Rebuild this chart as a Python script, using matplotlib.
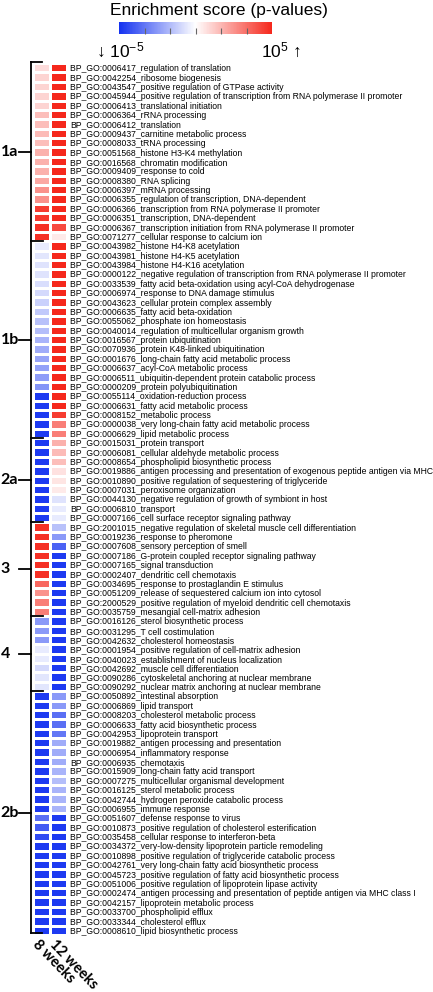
import numpy as np
import matplotlib
matplotlib.use("Agg")
import matplotlib.pyplot as plt
from matplotlib.colors import LinearSegmentedColormap, Normalize
from matplotlib.cm import ScalarMappable

plt.rcParams['font.family'] = ['Liberation Sans', 'DejaVu Sans']
plt.rcParams['mathtext.default'] = 'regular'

# GO terms, top to bottom
go_terms = [
    "BP_GO:0006417_regulation of translation",
    "BP_GO:0042254_ribosome biogenesis",
    "BP_GO:0043547_positive regulation of GTPase activity",
    "BP_GO:0045944_positive regulation of transcription from RNA polymerase II promoter",
    "BP_GO:0006413_translational initiation",
    "BP_GO:0006364_rRNA processing",
    "BP_GO:0006412_translation",
    "BP_GO:0009437_carnitine metabolic process",
    "BP_GO:0008033_tRNA processing",
    "BP_GO:0051568_histone H3-K4 methylation",
    "BP_GO:0016568_chromatin modification",
    "BP_GO:0009409_response to cold",
    "BP_GO:0008380_RNA splicing",
    "BP_GO:0006397_mRNA processing",
    "BP_GO:0006355_regulation of transcription, DNA-dependent",
    "BP_GO:0006366_transcription from RNA polymerase II promoter",
    "BP_GO:0006351_transcription, DNA-dependent",
    "BP_GO:0006367_transcription initiation from RNA polymerase II promoter",
    "BP_GO:0071277_cellular response to calcium ion",
    "BP_GO:0043982_histone H4-K8 acetylation",
    "BP_GO:0043981_histone H4-K5 acetylation",
    "BP_GO:0043984_histone H4-K16 acetylation",
    "BP_GO:0000122_negative regulation of transcription from RNA polymerase II promoter",
    "BP_GO:0033539_fatty acid beta-oxidation using acyl-CoA dehydrogenase",
    "BP_GO:0006974_response to DNA damage stimulus",
    "BP_GO:0043623_cellular protein complex assembly",
    "BP_GO:0006635_fatty acid beta-oxidation",
    "BP_GO:0055062_phosphate ion homeostasis",
    "BP_GO:0040014_regulation of multicellular organism growth",
    "BP_GO:0016567_protein ubiquitination",
    "BP_GO:0070936_protein K48-linked ubiquitination",
    "BP_GO:0001676_long-chain fatty acid metabolic process",
    "BP_GO:0006637_acyl-CoA metabolic process",
    "BP_GO:0006511_ubiquitin-dependent protein catabolic process",
    "BP_GO:0000209_protein polyubiquitination",
    "BP_GO:0055114_oxidation-reduction process",
    "BP_GO:0006631_fatty acid metabolic process",
    "BP_GO:0008152_metabolic process",
    "BP_GO:0000038_very long-chain fatty acid metabolic process",
    "BP_GO:0006629_lipid metabolic process",
    "BP_GO:0015031_protein transport",
    "BP_GO:0006081_cellular aldehyde metabolic process",
    "BP_GO:0008654_phospholipid biosynthetic process",
    "BP_GO:0019886_antigen processing and presentation of exogenous peptide antigen via MHC",
    "BP_GO:0010890_positive regulation of sequestering of triglyceride",
    "BP_GO:0007031_peroxisome organization",
    "BP_GO:0044130_negative regulation of growth of symbiont in host",
    "BP_GO:0006810_transport",
    "BP_GO:0007166_cell surface receptor signaling pathway",
    "BP_GO:2001015_negative regulation of skeletal muscle cell differentiation",
    "BP_GO:0019236_response to pheromone",
    "BP_GO:0007608_sensory perception of smell",
    "BP_GO:0007186_G-protein coupled receptor signaling pathway",
    "BP_GO:0007165_signal transduction",
    "BP_GO:0002407_dendritic cell chemotaxis",
    "BP_GO:0034695_response to prostaglandin E stimulus",
    "BP_GO:0051209_release of sequestered calcium ion into cytosol",
    "BP_GO:2000529_positive regulation of myeloid dendritic cell chemotaxis",
    "BP_GO:0035759_mesangial cell-matrix adhesion",
    "BP_GO:0016126_sterol biosynthetic process",
    "BP_GO:0031295_T cell costimulation",
    "BP_GO:0042632_cholesterol homeostasis",
    "BP_GO:0001954_positive regulation of cell-matrix adhesion",
    "BP_GO:0040023_establishment of nucleus localization",
    "BP_GO:0042692_muscle cell differentiation",
    "BP_GO:0090286_cytoskeletal anchoring at nuclear membrane",
    "BP_GO:0090292_nuclear matrix anchoring at nuclear membrane",
    "BP_GO:0050892_intestinal absorption",
    "BP_GO:0006869_lipid transport",
    "BP_GO:0008203_cholesterol metabolic process",
    "BP_GO:0006633_fatty acid biosynthetic process",
    "BP_GO:0042953_lipoprotein transport",
    "BP_GO:0019882_antigen processing and presentation",
    "BP_GO:0006954_inflammatory response",
    "BP_GO:0006935_chemotaxis",
    "BP_GO:0015909_long-chain fatty acid transport",
    "BP_GO:0007275_multicellular organismal development",
    "BP_GO:0016125_sterol metabolic process",
    "BP_GO:0042744_hydrogen peroxide catabolic process",
    "BP_GO:0006955_immune response",
    "BP_GO:0051607_defense response to virus",
    "BP_GO:0010873_positive regulation of cholesterol esterification",
    "BP_GO:0035458_cellular response to interferon-beta",
    "BP_GO:0034372_very-low-density lipoprotein particle remodeling",
    "BP_GO:0010898_positive regulation of triglyceride catabolic process",
    "BP_GO:0042761_very long-chain fatty acid biosynthetic process",
    "BP_GO:0045723_positive regulation of fatty acid biosynthetic process",
    "BP_GO:0051006_positive regulation of lipoprotein lipase activity",
    "BP_GO:0002474_antigen processing and presentation of peptide antigen via MHC class I",
    "BP_GO:0042157_lipoprotein metabolic process",
    "BP_GO:0033700_phospholipid efflux",
    "BP_GO:0033344_cholesterol efflux",
    "BP_GO:0008610_lipid biosynthetic process",
]

# enrichment score as signed log10 p-value (-5 .. 5)
score_8wk = [
    0.8, 1.0, 1.0, 1.0, 1.0, 1.5, 1.5, 1.6, 1.5, 1.8, 1.8, 1.8, 2.0, 2.5, 2.5, 4.5, 4.6, 4.8, 4.8,
    -0.5, -0.6, -0.7, -0.7, -0.8, -0.9, -1.1, -1.3, -1.5, -1.6, -1.8, -2.0, -2.2, -2.3, -2.4, -2.6,
    -4.8, -4.8, -4.8, -4.8, -4.8,
    -4.8, -4.8, -4.8, -4.8, -4.8, -4.8, -4.8, -4.8, -4.8,
    4.8, 4.8, 4.8, 4.8, 4.8, 4.8, 3.5, 2.5, 3.0, 3.0,
    -2.5, -2.5, -2.5, -0.5, -0.5, -0.9, -0.6, -0.6,
    -4.8, -4.8, -4.8, -4.8, -4.8, -4.8, -4.8, -4.8, -4.8, -4.8, -4.8, -4.8, -4.8,
    -3.5, -4.0, -4.4, -4.8, -4.8, -4.8, -4.8, -4.8, -4.8, -4.8, -4.8, -4.8, -4.8,
]
score_12wk = [
    5, 5, 5, 5, 5, 5, 5, 5, 5, 5, 5, 5, 5, 5, 5, 5, 5, 4.2, 0.5,
    5, 5, 5, 5, 5, 5, 5, 5, 5, 5, 5, 5, 5, 5, 5, 5, 5, 5, 4.5, 3.0, 3.0,
    1.8, 1.6, 1.5, 0.7, 0.6, 0.5, -0.7, -0.5, -0.5,
    -1.5, -2.5, -3.8, -4.8, -4.8, -4.8, -4.8, -4.8, -4.8, -4.8,
    -4.8, -4.8, -4.8, -4.8, -4.8, -4.8, -4.8, -4.8,
    -2.5, -2.5, -3.5, -3.5, -3.3, -2.0, -2.0, -2.0, -1.8, -1.6, -1.8, -1.8, -1.8,
    -4.8, -4.8, -4.8, -4.8, -4.8, -4.8, -4.8, -4.8, -4.8, -4.8, -4.8, -4.8, -4.8,
]

cluster_names = ["1a", "1b", "2a", "3", "4", "2b"]
cluster_sizes = [19, 21, 9, 10, 8, 26]
column_labels = ["8 weeks", "12 weeks"]

cmap = LinearSegmentedColormap.from_list("enrich", ["#1432f0", "#ffffff", "#f5281c"])
norm = Normalize(vmin=-5, vmax=5)

fig = plt.figure(figsize=(4.33, 9.92), dpi=100)

# heatmap
ax = fig.add_axes([33 / 433, 1 - 935 / 992, 34 / 433, 872 / 992])
data = np.column_stack([score_8wk, score_12wk])
n = len(go_terms)
ax.pcolormesh(np.arange(3), np.arange(n + 1), data, cmap=cmap, norm=norm,
              edgecolors="white", linewidth=1.0)
ax.set_xlim(0, 2)
ax.set_ylim(n, 0)
ax.set_xticks([])
ax.set_yticks(np.arange(n) + 0.5)
ax.set_yticklabels(go_terms, fontsize=6.2)
ax.yaxis.tick_right()
ax.tick_params(axis="y", length=0, pad=2.5)
for s in ax.spines.values():
    s.set_visible(False)

# cluster brackets
lw = 1.3
bx = -0.12
ax.plot([bx, bx], [-0.15, n - 0.2], color="black", lw=lw, clip_on=False)
ax.plot([bx, 0.55], [-0.15, -0.15], color="black", lw=lw, clip_on=False)
ax.plot([bx, 0.55], [n - 0.2, n - 0.2], color="black", lw=lw, clip_on=False)
edges = np.cumsum([0] + cluster_sizes)
for b in edges[1:-1]:
    ax.plot([bx, 0.6], [b, b], color="black", lw=lw, clip_on=False)
for name, lo, hi in zip(cluster_names, edges[:-1], edges[1:]):
    mid = (lo + hi) / 2
    ax.plot([-0.8, bx], [mid, mid], color="black", lw=lw, clip_on=False)
    ax.text(-1.9, mid, name, fontsize=11.5, fontweight="bold", family="Lato",
            ha="left", va="center", clip_on=False)

# column labels
for i, lab in enumerate(column_labels):
    ax.text(i + 0.38, n + 0.25, lab, rotation=-46, rotation_mode="anchor",
            ha="left", va="top", fontsize=10.5, fontweight="bold", family="Lato")

# colorbar
cax = fig.add_axes([119 / 433, 1 - 34 / 992, 153 / 433, 12 / 992])
cb = fig.colorbar(ScalarMappable(norm=norm, cmap=cmap), cax=cax, orientation="horizontal")
cb.outline.set_visible(False)
cb.set_ticks(np.linspace(-5, 5, 7)[1:-1])
cax.tick_params(axis="x", direction="in", length=4, width=0.8, color="#666666", labelbottom=False)

fig.text(219 / 433, 1 - 11 / 992, "Enrichment score (p-values)", fontsize=12.5,
         ha="center", va="center")
fig.text(96 / 433, 1 - 50 / 992, "↓ 10$^{-5}$", fontsize=12.5, ha="left", va="center")
fig.text(301 / 433, 1 - 50 / 992, "10$^{5}$ ↑", fontsize=12.5, ha="right", va="center")

fig.savefig("out.png", dpi=100, facecolor="white")
